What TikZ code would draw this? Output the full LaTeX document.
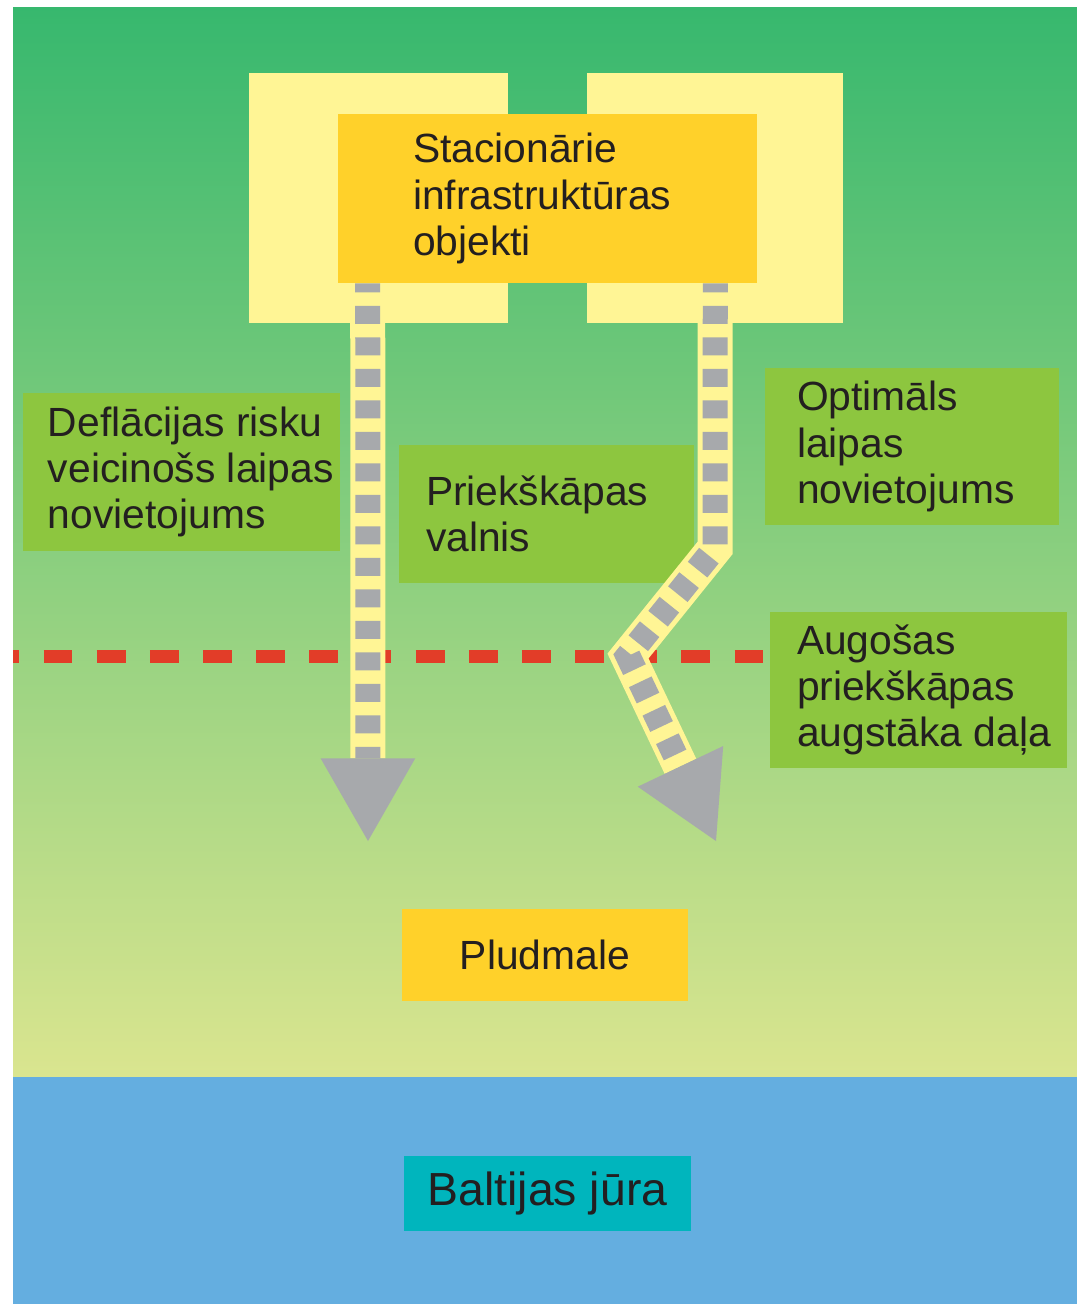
\documentclass[tikz,border=0pt]{standalone}
\usepackage{fontspec}
\setmainfont{Liberation Sans}
\usetikzlibrary{arrows.meta,calc}

\definecolor{toptone}{RGB}{55,184,110}
\definecolor{lowtone}{RGB}{218,229,143}
\definecolor{seablue}{RGB}{100,174,224}
\definecolor{pale}{RGB}{255,245,149}
\definecolor{sun}{RGB}{255,209,42}
\definecolor{leaf}{RGB}{141,198,63}
\definecolor{lagoon}{RGB}{0,181,189}
\definecolor{pebble}{RGB}{167,169,172}
\definecolor{redline}{RGB}{226,61,40}
\definecolor{ink}{RGB}{35,31,32}

\newcommand{\pxl}{0.025cm}

\tikzset{
  panel/.style={inner sep=0pt, text=ink, font=\fontsize{29}{33}\selectfont},
  lbl/.style={text=ink, align=left, inner sep=0pt, anchor=west, font=\fontsize{29}{33}\selectfont},
  strip/.style={draw=pale, line width=35*\pxl,
    -{Triangle[width=67.3pt,length=58.8pt,line width=0pt,color=pebble]}},
  ties/.style={draw=pebble, line width=25*\pxl, dash pattern=on 12.8pt off 9.6pt,
    dash phase=6.4pt, shorten >=58.8pt}
}

\begin{document}
\begin{tikzpicture}[x=\pxl,y=-\pxl]
  \useasboundingbox (0,0) rectangle (1077,1304);
  % land and sea
  \shade[top color=toptone, bottom color=lowtone] (13,7) rectangle (1077,1077);
  \fill[seablue] (13,1077) rectangle (1077,1304);
  % pale frames behind the objects
  \fill[pale] (249,73) rectangle (508,323);
  \fill[pale] (587,73) rectangle (843,323);
  % upper edge of the growing foredune
  \draw[redline, line width=13*\pxl, dash pattern=on 20.6pt off 17.2pt, dash phase=16.1pt]
    (13,656) -- (763,656);

  \node[panel, fill=sun, minimum width=419*\pxl, minimum height=169*\pxl] (infra) at (547.5,198.5) {};
  \node[lbl] (infra-t) at ($(infra.west)+(75,0)$) {Stacionārie\\infrastruktūras\\objekti};

  \node[panel, fill=leaf, minimum width=317*\pxl, minimum height=158*\pxl] (defl) at (181.5,472) {};
  \node[lbl] (defl-t) at ($(defl.west)+(25,0)$) {Deflācijas risku\\veicinošs laipas\\novietojums};

  \node[panel, fill=leaf, minimum width=295*\pxl, minimum height=138*\pxl] (valn) at (546.5,514) {};
  \node[lbl] (valn-t) at ($(valn.west)+(27,0)$) {Priekškāpas\\valnis};

  \node[panel, fill=leaf, minimum width=294*\pxl, minimum height=157*\pxl] (opt) at (912,446.5) {};
  \node[lbl] (opt-t) at ($(opt.west)+(32,0)$) {Optimāls\\laipas\\novietojums};

  \node[panel, fill=leaf, minimum width=297*\pxl, minimum height=156*\pxl] (aug) at (918.5,690) {};
  \node[lbl] (aug-t) at ($(aug.west)+(27,0)$) {Augošas\\priekškāpas\\augstāka daļa};

  \node[panel, fill=sun, minimum width=286*\pxl, minimum height=92*\pxl] (beach) at (545,955) {Pludmale};
  \node[panel, fill=lagoon, minimum width=287*\pxl, minimum height=75*\pxl,
    font=\fontsize{33}{38}\selectfont] (baltic) at (547.5,1193.5) {Baltijas jūra};

  % footpaths
  \coordinate (ltop) at ($(infra.south west)+(30,0)$);
  \coordinate (lend) at (368,841);
  \coordinate (rtop) at ($(infra.south east)+(-42,0)$);
  \coordinate (rbend1) at (715,548);
  \coordinate (rbend2) at (628,656);
  \coordinate (rend) at (716,841);
  \draw[strip] (ltop) -- (lend);
  \draw[ties] (ltop) -- (lend);
  \draw[strip] (rtop) -- (rbend1) -- (rbend2) -- (rend);
  \draw[ties] (rtop) -- (rbend1) -- (rbend2) -- (rend);
\end{tikzpicture}
\end{document}
